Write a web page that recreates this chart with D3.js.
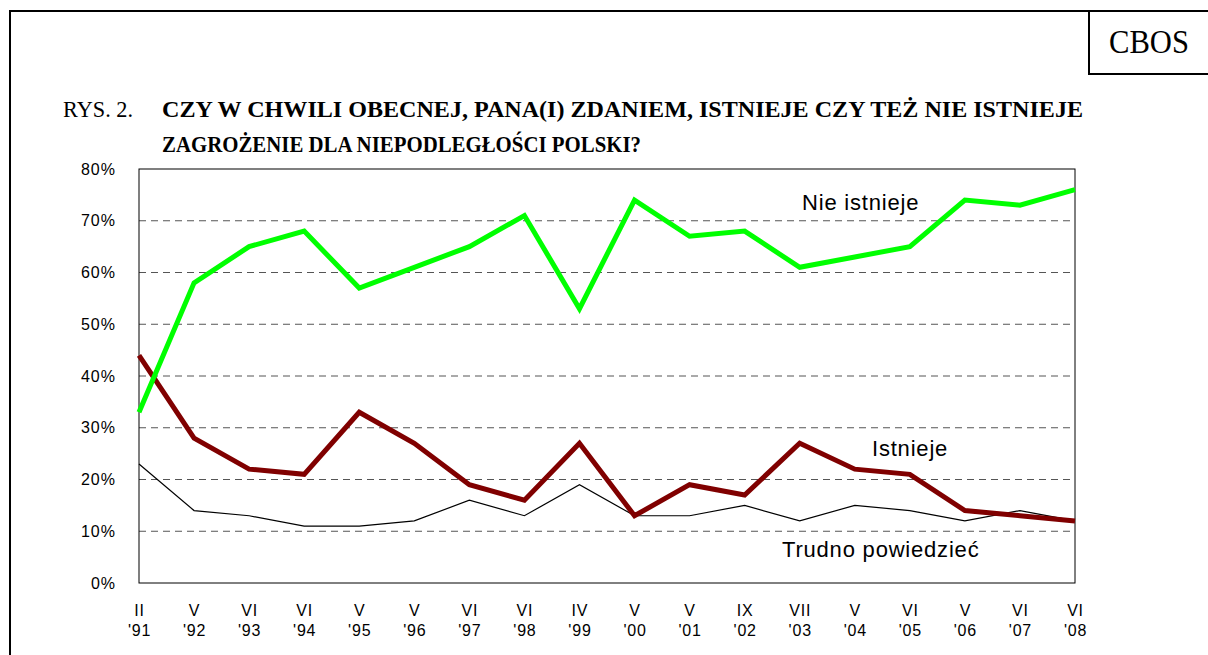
<!DOCTYPE html>
<html>
<head>
<meta charset="utf-8">
<script src="https://cdn.jsdelivr.net/npm/d3@7"></script>
<style>
  body { margin: 0; background: white; }
  svg { display: block; }
</style>
</head>
<body>
<div id="viz_canvas"></div>
<script>
"use strict";

var months = ["II", "V", "VI", "VI", "V", "V", "VI", "VI", "IV", "V", "V", "IX", "VII", "V", "VI", "V", "VI", "VI"];
var years = ["'91", "'92", "'93", "'94", "'95", "'96", "'97", "'98", "'99", "'00", "'01", "'02", "'03", "'04", "'05", "'06", "'07", "'08"];
var nieIstnieje = [33, 58, 65, 68, 57, 61, 65, 71, 53, 74, 67, 68, 61, 63, 65, 74, 73, 76];
var istnieje = [44, 28, 22, 21, 33, 27, 19, 16, 27, 13, 19, 17, 27, 22, 21, 14, 13, 12];
var trudno = [23, 14, 13, 11, 11, 12, 16, 13, 19, 13, 13, 15, 12, 15, 14, 12, 14, 12];
var yTicks = [0, 10, 20, 30, 40, 50, 60, 70, 80];

var width = 1208, height = 655;
var plot = { left: 139, right: 1075, top: 169, bottom: 583 };
var serif = "'Liberation Serif', 'Times New Roman', serif";
var sans = "Arial, 'Liberation Sans', sans-serif";

var svg = d3.select("#viz_canvas").append("svg")
    .attr("width", width)
    .attr("height", height);

// outer frame + CBOS box
svg.append("path")
    .attr("d", "M10,655 L10,11 L1208,11")
    .attr("fill", "none")
    .attr("stroke", "black")
    .attr("stroke-width", 2);
svg.append("path")
    .attr("d", "M1089,11 L1089,74 L1208,74")
    .attr("fill", "none")
    .attr("stroke", "black")
    .attr("stroke-width", 2);
svg.append("text")
    .attr("x", 1149)
    .attr("y", 53)
    .attr("text-anchor", "middle")
    .attr("textLength", 80).attr("lengthAdjust", "spacingAndGlyphs")
    .style("font-family", serif)
    .style("font-size", "33px")
    .text("CBOS");

// title
svg.append("text")
    .attr("x", 63).attr("y", 117)
    .attr("textLength", 70).attr("lengthAdjust", "spacingAndGlyphs")
    .style("font-family", serif).style("font-size", "23px")
    .text("RYS. 2.");
svg.append("text")
    .attr("x", 162).attr("y", 117)
    .attr("textLength", 921).attr("lengthAdjust", "spacingAndGlyphs")
    .style("font-family", serif).style("font-size", "24px").style("font-weight", "bold")
    .text("CZY W CHWILI OBECNEJ, PANA(I) ZDANIEM, ISTNIEJE CZY TEŻ NIE ISTNIEJE");
svg.append("text")
    .attr("x", 162).attr("y", 152)
    .attr("textLength", 479).attr("lengthAdjust", "spacingAndGlyphs")
    .style("font-family", serif).style("font-size", "24px").style("font-weight", "bold")
    .text("ZAGROŻENIE DLA NIEPODLEGŁOŚCI POLSKI?");

var x = d3.scalePoint()
    .domain(d3.range(years.length))
    .range([plot.left, plot.right]);
var y = d3.scaleLinear()
    .domain([0, 80])
    .range([plot.bottom, plot.top]);

// gridlines
svg.append("g")
    .selectAll("line")
    .data(yTicks.filter(d => d > 0 && d < 80))
    .enter().append("line")
    .attr("x1", plot.left).attr("x2", plot.right)
    .attr("y1", d => y(d)).attr("y2", d => y(d))
    .attr("stroke", "#555")
    .attr("stroke-width", 1)
    .attr("stroke-dasharray", "7,5");

// plot frame
svg.append("rect")
    .attr("x", plot.left).attr("y", plot.top)
    .attr("width", plot.right - plot.left)
    .attr("height", plot.bottom - plot.top)
    .attr("fill", "none")
    .attr("stroke", "black")
    .attr("stroke-width", 1);

// y axis labels
var yAxis = svg.append("g")
    .attr("transform", "translate(" + plot.left + ",0)")
    .call(d3.axisLeft(y).tickValues(yTicks).tickSize(0).tickPadding(23).tickFormat(d => d + "%"));
yAxis.select(".domain").remove();
yAxis.selectAll("text")
    .style("font-family", sans)
    .style("font-size", "16px")
    .style("letter-spacing", "1px")
    .attr("fill", "black");

// x axis labels (two lines)
var xAxis = svg.append("g")
    .attr("transform", "translate(0," + plot.bottom + ")")
    .call(d3.axisBottom(x).tickSize(0).tickFormat(""));
xAxis.select(".domain").remove();
var xLabel = xAxis.selectAll(".tick").append("text")
    .attr("fill", "black")
    .attr("text-anchor", "middle")
    .style("font-family", sans)
    .style("font-size", "16px")
    .style("letter-spacing", "0.8px");
xLabel.append("tspan").attr("x", 0).attr("y", 33).text(d => months[d]);
xLabel.append("tspan").attr("x", 0).attr("y", 53).text(d => years[d]);

var line = d3.line()
    .x((d, i) => x(i))
    .y(d => y(d));

svg.append("path")
    .datum(trudno)
    .attr("d", line)
    .attr("fill", "none")
    .attr("stroke", "black")
    .attr("stroke-width", 1.2);

svg.append("path")
    .datum(istnieje)
    .attr("d", line)
    .attr("fill", "none")
    .attr("stroke", "#800000")
    .attr("stroke-width", 5);

svg.append("path")
    .datum(nieIstnieje)
    .attr("d", line)
    .attr("fill", "none")
    .attr("stroke", "#00ff00")
    .attr("stroke-width", 5);

// series labels
function seriesLabel(text, xPos, yPos) {
    svg.append("text")
        .attr("x", xPos).attr("y", yPos)
        .style("font-family", sans)
        .style("font-size", "22px")
        .style("letter-spacing", "0.8px")
        .text(text);
}
seriesLabel("Nie istnieje", 802, 210);
seriesLabel("Istnieje", 872, 456);
seriesLabel("Trudno powiedzieć", 782, 557);
</script>
</body>
</html>
